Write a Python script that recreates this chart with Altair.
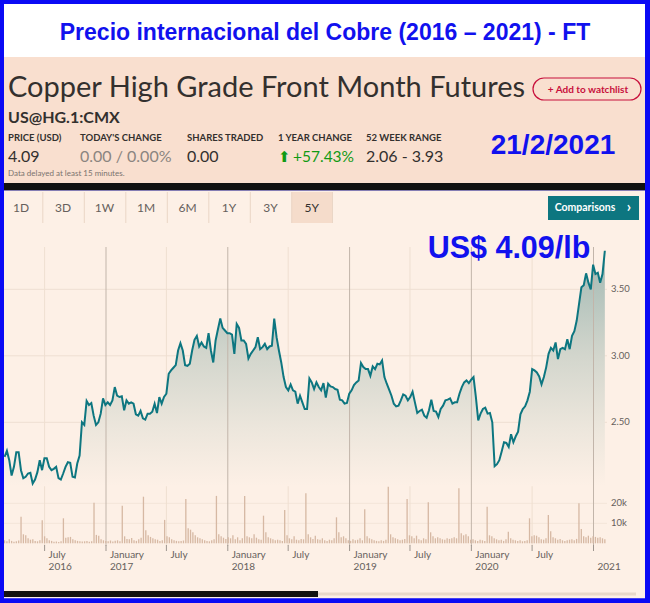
import altair as alt
import pandas as pd

# ---------------- texts ----------------
TITLE = "Precio internacional del Cobre (2016 – 2021) - FT"
INSTRUMENT = "Copper High Grade Front Month Futures"
SYMBOL = "US@HG.1:CMX"
WATCH = "+  Add to watchlist"
STAT_LABELS = ["PRICE (USD)", "TODAY'S CHANGE", "SHARES TRADED", "1 YEAR CHANGE", "52 WEEK RANGE"]
STAT_VALUES = ["4.09", "0.00 / 0.00%", "0.00", "+57.43%", "2.06 - 3.93"]
UP_ARROW = "⬆"
DELAY_NOTE = "Data delayed at least 15 minutes."
SNAP_DATE = "21/2/2021"
PRICE_NOTE = "US$ 4.09/lb"
RANGE_BUTTONS = ["1D", "3D", "1W", "1M", "6M", "1Y", "3Y", "5Y"]
SELECTED = "5Y"
COMPARE = "Comparisons"
COMPARE_ARROW = "›"

# ---------------- series (weekly) ----------------
SERIES_START = "2016-03-03"
SERIES_END = "2021-02-04"
PRICES = [
    2.24, 2.285, 2.215, 2.10, 2.165, 2.275, 2.275, 2.14, 2.08, 2.09,
    2.115, 2.12, 2.04, 2.07, 2.125, 2.215, 2.14, 2.23, 2.23, 2.165,
    2.14, 2.15, 2.165, 2.08, 2.07, 2.115, 2.165, 2.20, 2.195, 2.09,
    2.085, 2.19, 2.25, 2.50, 2.48, 2.66, 2.63, 2.645, 2.55, 2.48,
    2.50, 2.565, 2.68, 2.63, 2.65, 2.63, 2.665, 2.765, 2.70, 2.69,
    2.695, 2.59, 2.665, 2.64, 2.65, 2.64, 2.56, 2.55, 2.585, 2.53,
    2.52, 2.565, 2.565, 2.58, 2.64, 2.57,
    2.69, 2.64, 2.69, 2.715, 2.865, 2.89, 2.91, 2.93, 3.04, 3.095,
    3.04, 2.93, 2.925, 2.94, 3.04, 3.12, 3.15, 3.07, 3.10, 3.07,
    3.06, 3.17, 3.04, 2.95, 3.115, 3.20, 3.28, 3.21, 3.19, 3.17,
    3.17, 3.16, 3.015, 3.24, 3.21, 3.115, 3.115, 3.09, 2.98, 3.015,
    3.04, 3.065, 3.14, 3.05, 3.065, 3.09, 3.05, 3.07, 3.075, 3.28,
    3.14, 3.04, 2.95, 2.84, 2.765, 2.74, 2.785, 2.74, 2.73, 2.64,
    2.70, 2.65, 2.60, 2.60,
    2.83, 2.80, 2.75, 2.80, 2.765, 2.74, 2.795, 2.685, 2.79, 2.77,
    2.765, 2.75, 2.745, 2.67, 2.665, 2.64, 2.645, 2.715, 2.74, 2.78,
    2.80, 2.815, 2.945, 2.915, 2.90, 2.90, 2.85, 2.92, 2.90, 2.94,
    2.935, 2.965, 2.84, 2.79, 2.745, 2.70, 2.64, 2.62, 2.625, 2.665,
    2.71, 2.70, 2.665, 2.69, 2.73, 2.65, 2.57, 2.585, 2.595, 2.55,
    2.535, 2.59, 2.67, 2.585, 2.58, 2.54, 2.60, 2.625, 2.665, 2.67,
    2.68, 2.64, 2.65, 2.65, 2.715,
    2.765, 2.80, 2.815, 2.795, 2.82, 2.84, 2.69, 2.515, 2.565, 2.60,
    2.61, 2.565, 2.57, 2.50, 2.17, 2.185, 2.215, 2.28, 2.35, 2.345,
    2.315, 2.41, 2.35, 2.395, 2.43, 2.56, 2.60, 2.62, 2.665, 2.73,
    2.90, 2.89, 2.875, 2.845, 2.785, 2.84, 2.915, 3.015, 3.06, 3.04,
    3.10, 2.975, 3.05, 3.06, 3.05, 3.125, 3.05, 3.15, 3.185, 3.265,
    3.39, 3.515, 3.53, 3.62, 3.55, 3.50, 3.685, 3.615, 3.625, 3.55,
    3.615, 3.79,
]
VOLUME_K = [
    1.5, 1.0, 2.0, 1.2, 0.8, 1.0, 1.4, 13.3, 4.5, 4.0, 2.5, 1.8, 2.0, 1.2, 1.0, 1.5,
    11.5, 3.5, 2.5, 1.5, 1.2, 0.8, 0.9, 0.7, 1.0, 12.5, 2.8, 3.0, 3.2, 2.0, 1.5, 1.2,
    1.0, 0.9, 1.0, 1.2, 0.8, 1.0, 20.3, 4.2, 3.8, 2.0, 1.5, 1.2, 1.0, 1.4, 0.9, 1.3,
    1.5, 1.0, 18.8, 3.5, 2.2, 2.0, 2.6, 1.5, 1.2, 2.0, 2.8, 23.3, 6.5, 4.0, 3.2, 2.5,
    2.0, 1.8, 1.2, 1.5, 11.7, 3.5, 3.0, 2.0, 1.5, 1.2, 1.0, 1.1, 1.4, 22.2, 7.5, 6.8,
    5.5, 4.0, 3.0, 2.5, 2.0, 1.5, 1.2, 1.0, 1.5, 2.0, 23.7, 4.5, 3.5, 2.8, 2.2, 3.0,
    2.5, 4.0, 2.0, 3.0, 1.5, 2.5, 23.7, 3.5, 3.0, 2.5, 4.5, 2.8, 2.0, 1.8, 13.8, 5.5,
    3.0, 2.5, 2.0, 1.5, 1.8, 1.5, 1.2, 16.7, 4.0, 2.5, 2.0, 3.5, 1.8, 1.5, 2.2, 2.0,
    25.0, 4.5, 3.0, 2.2, 3.8, 2.0, 1.8, 2.5, 1.5, 1.2, 1.8, 1.5, 2.5, 13.0, 5.5, 3.0,
    3.5, 2.5, 1.5, 1.2, 2.0, 1.5, 1.8, 2.5, 1.5, 17.0, 3.5, 2.5, 2.0, 1.5, 1.2, 1.0,
    1.5, 1.2, 1.8, 28.3, 4.5, 3.0, 2.5, 2.0, 1.5, 1.8, 2.2, 22.2, 4.0, 3.5, 2.5, 3.8,
    2.0, 1.5, 2.5, 2.0, 20.5, 5.5, 3.5, 2.5, 3.0, 2.5, 2.0, 1.8, 2.5, 2.2, 2.5, 3.0,
    2.5, 27.5, 5.0, 4.0, 4.5, 3.5, 1.8, 2.0, 1.5, 1.2, 1.8, 1.5, 1.2, 18.3, 4.0, 3.5,
    2.5, 2.0, 1.5, 1.8, 1.2, 2.0, 5.8, 2.5, 1.8, 1.5, 1.2, 1.5, 1.0, 1.2, 1.5, 12.5,
    3.5, 4.0, 3.8, 3.0, 2.0, 1.8, 2.5, 14.2, 6.0, 3.0, 2.5, 1.8, 2.2, 1.5, 1.2, 1.5,
    1.8, 2.0, 1.5, 2.2, 20.0, 7.2, 3.5, 3.0, 3.8, 2.8, 3.5, 3.2, 2.8, 3.0, 2.5, 2.0,
]

GRID_YEARS = ["2017-01-01", "2018-01-01", "2019-01-01", "2020-01-01", "2021-01-01"]
GRID_JULY = ["2016-07-01", "2017-07-01", "2018-07-01", "2019-07-01", "2020-07-01"]
X_TICK_DATES = ["2016-07-01", "2017-01-01", "2017-07-01", "2018-01-01", "2018-07-01",
                "2019-01-01", "2019-07-01", "2020-01-01", "2020-07-01", "2021-01-01"]
X_TICK_TOP = ["July", "January", "July", "January", "July", "January", "July", "January", "July", ""]
X_TICK_BOTTOM = ["2016", "2017", "", "2018", "", "2019", "", "2020", "", "2021"]
PRICE_TICKS = [2.5, 3.0, 3.5]
PRICE_TICK_LABELS = ["2.50", "3.00", "3.50"]
VOL_TICKS = [10, 20]
VOL_TICK_LABELS = ["10k", "20k"]
AREA_FLOOR = 2.02  # price level where the shaded area fades out

# ---------------- styling ----------------
BLUE = "#0a0af5"
TXT_BLUE = "#1111ee"
INK = "#33302e"
GREY = "#66605c"
SALMON = "#f9dfcf"
CREAM = "#fdf0e6"
TEAL = "#0d7680"

price_df = pd.DataFrame({"date": pd.date_range(SERIES_START, SERIES_END, periods=len(PRICES)),
                         "price": PRICES})
vol_df = pd.DataFrame({"date": pd.date_range(SERIES_START, SERIES_END, periods=len(VOLUME_K)),
                       "vol": VOLUME_K})

xs = alt.Scale(domain=[alt.DateTime(year=2017, month=1, date=1),
                       alt.DateTime(year=2021, month=1, date=1)],
               range=[106, 593.5], nice=False)
ys = alt.Scale(domain=[2.5, 3.5], range=[422.3, 289.3], nice=False, zero=False)
vs = alt.Scale(domain=[0, 20], range=[543.3, 503.3], nice=False)

one = pd.DataFrame({"k": [0]})


def rect(x1, y1, x2, y2, color, **kw):
    return alt.Chart(one).mark_rect(color=color, **kw).encode(
        x=alt.value(x1), x2=alt.value(x2), y=alt.value(y1), y2=alt.value(y2))


def label(txt, x, y, size, color, weight="normal", align="left",
          baseline="alphabetic", font="Lato"):
    return alt.Chart(one).mark_text(text=txt, fontSize=size, color=color,
                                    fontWeight=weight, align=align,
                                    baseline=baseline, font=font).encode(
        x=alt.value(x), y=alt.value(y))


X = lambda f="d": alt.X(f"{f}:T", scale=xs, axis=None)

layers = []
# backgrounds
layers += [
    rect(0, 0, 650, 603, BLUE),
    rect(4, 4, 645, 57, "#ffffff"),
    rect(4, 57, 645, 183, SALMON),
    rect(4, 183, 645, 190.5, "#111111"),
    rect(4, 190.5, 645, 598.5, CREAM),
]

# range buttons
sep_x = [42.3, 83.8, 125.3, 166.8, 208.3, 249.8, 291.3, 332]
btn_cx = [21, 63, 104.5, 146, 187.5, 229, 270.5, 311.7]
layers.append(rect(291.3, 192, 332, 223, "#f5dccb"))
for sx in sep_x:
    layers.append(rect(sx, 192, sx + 1, 223, "#ead6c6"))
for name, cx in zip(RANGE_BUTTONS, btn_cx):
    layers.append(label(name, cx, 207.5, 12, INK if name == SELECTED else GREY,
                        align="center", baseline="middle"))
layers.append(rect(548, 196, 639, 220, TEAL))
layers.append(label(COMPARE, 585, 208, 10.5, "#ffffff", weight="bold",
                    align="center", baseline="middle"))
layers.append(label(COMPARE_ARROW, 629, 207, 15, "#ffffff", weight="bold",
                    align="center", baseline="middle"))

# gridlines
pt_df = pd.DataFrame({"v": PRICE_TICKS, "lab": PRICE_TICK_LABELS})
vt_df = pd.DataFrame({"v": VOL_TICKS, "lab": VOL_TICK_LABELS})
layers.append(alt.Chart(pt_df).mark_rule(color="#eedfd2", strokeWidth=1).encode(
    y=alt.Y("v:Q", scale=ys, axis=None), x=alt.value(4), x2=alt.value(607)))
layers.append(alt.Chart(vt_df).mark_rule(color="#f3e5d9", strokeWidth=1).encode(
    y=alt.Y("v:Q", scale=vs, axis=None), x=alt.value(4), x2=alt.value(607)))
july_df = pd.DataFrame({"d": pd.to_datetime(GRID_JULY)})
layers.append(alt.Chart(july_df).mark_rule(color="#efdfd1", strokeWidth=1).encode(
    x=X(), y=alt.value(247), y2=alt.value(546)))

# price area + line
grad = alt.Gradient(gradient="linear", x1=0, x2=0, y1=0, y2=1, stops=[
    alt.GradientStop(color="#a0b8b2", offset=0),
    alt.GradientStop(color="#d3d6cd", offset=0.45),
    alt.GradientStop(color="#ece6dc", offset=0.75),
    alt.GradientStop(color=CREAM, offset=1)])
layers.append(alt.Chart(price_df).mark_area(color=grad).encode(
    x=X("date"), y=alt.Y("price:Q", scale=ys, axis=None), y2=alt.datum(AREA_FLOOR)))

year_df = pd.DataFrame({"d": pd.to_datetime(GRID_YEARS)})
layers.append(alt.Chart(year_df).mark_rule(color="#c2b5aa", strokeWidth=1).encode(
    x=X(), y=alt.value(247), y2=alt.value(546)))

# volume
layers.append(alt.Chart(vol_df).mark_rule(color="#d6b8a3", strokeWidth=1.3).encode(
    x=X("date"), y=alt.Y("vol:Q", scale=vs, axis=None), y2=alt.datum(0)))

layers.append(alt.Chart(price_df).mark_line(color=TEAL, strokeWidth=2).encode(
    x=X("date"), y=alt.Y("price:Q", scale=ys, axis=None)))

# axes (ticks and labels)
xt_df = pd.DataFrame({"d": pd.to_datetime(X_TICK_DATES), "top": X_TICK_TOP, "bot": X_TICK_BOTTOM})
layers.append(alt.Chart(xt_df).mark_rule(color="#9d958e", strokeWidth=1).encode(
    x=X(), y=alt.value(545), y2=alt.value(551)))
layers.append(alt.Chart(xt_df).mark_text(align="left", dx=4, baseline="middle", fontSize=10,
                                         font="Lato", color=GREY).encode(
    x=X(), y=alt.value(554.5), text="top:N"))
layers.append(alt.Chart(xt_df).mark_text(align="left", dx=4, baseline="middle", fontSize=10,
                                         font="Lato", color=GREY).encode(
    x=X(), y=alt.value(567), text="bot:N"))
layers.append(alt.Chart(pt_df).mark_text(align="left", baseline="middle", fontSize=9.5,
                                         font="Lato", color=GREY).encode(
    y=alt.Y("v:Q", scale=ys, axis=None), x=alt.value(611), text="lab:N"))
layers.append(alt.Chart(vt_df).mark_text(align="left", baseline="middle", fontSize=9.5,
                                         font="Lato", color=GREY).encode(
    y=alt.Y("v:Q", scale=vs, axis=None), x=alt.value(611), text="lab:N"))

# header texts
layers.append(label(TITLE, 325, 40, 23, TXT_BLUE, weight="bold", align="center",
                    font="Liberation Sans"))
layers.append(label(INSTRUMENT, 8, 97, 29, INK))
layers.append(rect(533, 78, 641, 100, SALMON, stroke="#c8103c", strokeWidth=1.2, cornerRadius=11))
layers.append(label(WATCH, 588, 89.5, 10, "#c8103c", weight="bold", align="center",
                    baseline="middle"))
layers.append(label(SYMBOL, 8, 123, 16, INK, weight="bold"))
stat_x = [8, 80, 187, 278, 366]
value_colors = [INK, "#8b8580", INK, "#119a14", INK]
for sx, lab, val, col in zip(stat_x, STAT_LABELS, STAT_VALUES, value_colors):
    layers.append(label(lab, sx, 141, 9.5, INK, weight="bold"))
    if val.startswith("+"):
        layers.append(label(UP_ARROW, sx, 161.5, 15, col, font="DejaVu Sans"))
        layers.append(label(val, sx + 15, 161.5, 15.5, col))
    else:
        layers.append(label(val, sx, 161.5, 16, col))
layers.append(label(DELAY_NOTE, 8, 176, 8, "#7a736e"))
layers.append(label(SNAP_DATE, 553, 154, 28, TXT_BLUE, weight="bold", align="center",
                    font="Liberation Sans"))
layers.append(label(PRICE_NOTE, 509, 258, 30.5, TXT_BLUE, weight="bold", align="center",
                    font="Liberation Sans"))

# scrollbar
layers.append(rect(4, 592.5, 636, 595.5, "#e8d8ca"))
layers.append(rect(4, 591, 318, 597, "#111111"))

# blue frame on top
layers += [
    rect(0, 0, 4, 603, BLUE),
    rect(645, 0, 650, 603, BLUE),
    rect(0, 0, 650, 4, BLUE),
    rect(0, 598.5, 650, 603, BLUE),
]

chart = alt.layer(*layers).resolve_scale(y="independent").properties(
    width=650, height=603, padding=0,
    autosize=alt.AutoSizeParams(type="none"), background=BLUE,
).configure_view(stroke=None)

chart.save("out.html", embed_options={"renderer": "svg", "actions": False})
